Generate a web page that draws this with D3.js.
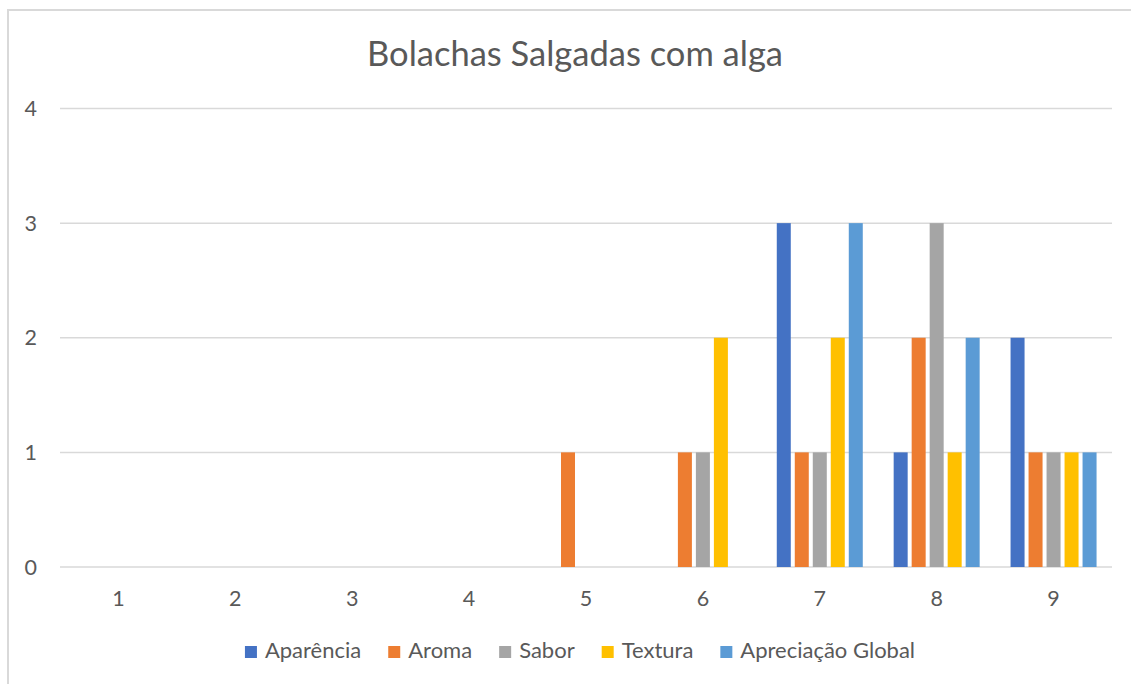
<!DOCTYPE html>
<html>
<head>
<meta charset="utf-8">
<script src="https://cdn.jsdelivr.net/npm/d3@7"></script>
<style>
  html, body { margin: 0; padding: 0; background: #fff; }
  svg { display: block; }
  text { font-family: Lato, "Open Sans", sans-serif; fill: #595959; }
</style>
</head>
<body>
<svg id="chart" width="1131" height="684"></svg>
<script>
const title = "Bolachas Salgadas com alga";
const categories = ["1", "2", "3", "4", "5", "6", "7", "8", "9"];
const seriesNames = ["Aparência", "Aroma", "Sabor", "Textura", "Apreciação Global"];
const aparencia = [0, 0, 0, 0, 0, 0, 3, 1, 2];
const aroma = [0, 0, 0, 0, 1, 1, 1, 2, 1];
const sabor = [0, 0, 0, 0, 0, 1, 1, 3, 1];
const textura = [0, 0, 0, 0, 0, 2, 2, 1, 1];
const apreciacaoGlobal = [0, 0, 0, 0, 0, 0, 3, 2, 1];
const yTicks = [0, 1, 2, 3, 4];
const colors = ["#4472C4", "#ED7D31", "#A5A5A5", "#FFC000", "#5B9BD5"];

const seriesValues = [aparencia, aroma, sabor, textura, apreciacaoGlobal];
const data = categories.map((c, i) => ({
  cat: c,
  vals: seriesNames.map((s, j) => ({ name: s, value: seriesValues[j][i], color: colors[j] }))
}));

const svg = d3.select("#chart");

// outer chart border
svg.append("rect")
  .attr("x", 8).attr("y", 10)
  .attr("width", 1140).attr("height", 700)
  .attr("fill", "none").attr("stroke", "#d9d9d9").attr("stroke-width", 2);

const plot = { left: 60, right: 1112, top: 108.5, bottom: 567 };

const x0 = d3.scaleBand().domain(categories).range([plot.left, plot.right]).padding(0);
const y = d3.scaleLinear().domain([0, 4]).range([plot.bottom, plot.top]);
const cw = x0.bandwidth();
const x1 = d3.scaleBand().domain(seriesNames)
  .range([cw / 2 - 45, cw / 2 + 45])
  .paddingInner(4 / 18).paddingOuter(2 / 18);

// gridlines
svg.append("g").selectAll("line").data(yTicks).join("line")
  .attr("x1", plot.left).attr("x2", plot.right)
  .attr("y1", d => y(d)).attr("y2", d => y(d))
  .attr("stroke", "#d9d9d9").attr("stroke-width", 1.5);

// y tick labels
svg.append("g").selectAll("text").data(yTicks).join("text")
  .attr("x", 37).attr("y", d => y(d) + 7.5)
  .attr("text-anchor", "end")
  .style("font-size", "21.5px")
  .text(d => d);

// x tick labels
svg.append("g").selectAll("text").data(categories).join("text")
  .attr("x", d => x0(d) + cw / 2).attr("y", 606)
  .attr("text-anchor", "middle")
  .style("font-size", "21.5px")
  .text(d => d);

// bars
const groups = svg.append("g").selectAll("g").data(data).join("g")
  .attr("transform", d => `translate(${x0(d.cat)},0)`);
groups.selectAll("rect").data(d => d.vals.filter(v => v.value > 0)).join("rect")
  .attr("x", d => x1(d.name))
  .attr("width", x1.bandwidth())
  .attr("y", d => y(d.value))
  .attr("height", d => y(0) - y(d.value))
  .attr("fill", d => d.color);

// title
svg.append("text")
  .attr("x", 575).attr("y", 66)
  .attr("text-anchor", "middle")
  .style("font-size", "34.5px")
  .text(title);

// legend
const legend = svg.append("g");
const items = legend.selectAll("g").data(seriesNames).join("g");
items.append("rect")
  .attr("width", 12).attr("height", 12)
  .attr("y", 646)
  .attr("fill", (d, i) => colors[i]);
items.append("text")
  .attr("x", 20).attr("y", 658)
  .style("font-size", "22px")
  .text(d => d);
let offs = 0;
const positions = [];
items.each(function () {
  const w = d3.select(this).select("text").node().getComputedTextLength();
  positions.push(offs);
  offs += 20 + w + 27;
});
const total = offs - 27;
const startX = 580 - total / 2;
items.attr("transform", (d, i) => `translate(${startX + positions[i]},0)`);
</script>
</body>
</html>
